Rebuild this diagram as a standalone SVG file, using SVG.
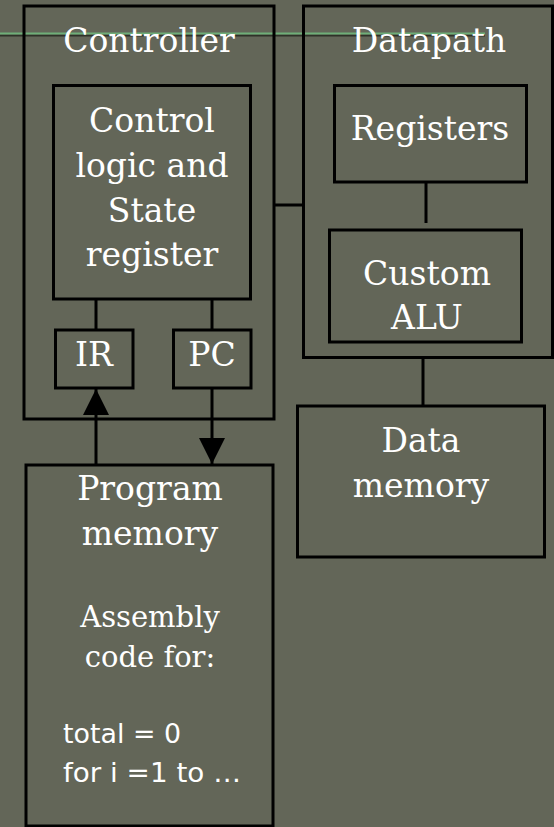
<svg xmlns="http://www.w3.org/2000/svg" width="554" height="827" viewBox="0 0 554 827">
<defs>
<style>
.box{fill:#636658;stroke:#000;stroke-width:3}
.ob{fill:none;stroke:#000;stroke-width:3}
.ln{stroke:#000;stroke-width:3;fill:none}
.t{font-family:"DejaVu Serif","Liberation Serif",serif;fill:#fff;text-anchor:middle;font-size:33px}
.s{font-family:"DejaVu Serif","Liberation Serif",serif;fill:#fff;text-anchor:middle;font-size:29px}
.c{font-family:"DejaVu Sans","Liberation Sans",sans-serif;fill:#fff;font-size:27px}
</style>
<marker id="ah" viewBox="0 0 26 26" refX="26" refY="13" markerWidth="26" markerHeight="26" markerUnits="userSpaceOnUse" orient="auto">
<path d="M0,0 L26,13 L0,26 Z" fill="#000"/>
</marker>
</defs>
<rect width="554" height="827" fill="#636658"/>
<g id="title-line">
<line x1="0" y1="35.5" x2="485" y2="35.5" stroke="#2f3128" stroke-width="2"/>
<line x1="0" y1="33.5" x2="485" y2="33.5" stroke="#6fae78" stroke-width="2"/>
</g>
<g id="controller">
<rect class="ob" x="24" y="6" width="250" height="413"/>
<text class="t" x="149" y="52">Controller</text>
</g>
<g id="datapath">
<rect class="ob" x="303.5" y="6" width="249" height="351.5"/>
<text class="t" x="429" y="52">Datapath</text>
</g>
<g id="control-logic">
<rect class="box" x="53.5" y="85.5" width="197" height="213.5"/>
<text class="t" x="152" y="132">Control</text>
<text class="t" x="152" y="177">logic and</text>
<text class="t" x="152" y="222">State</text>
<text class="t" x="152" y="266">register</text>
</g>
<g id="ir">
<rect class="box" x="55.5" y="330" width="77.5" height="58"/>
<text class="t" x="94" y="366">IR</text>
</g>
<g id="pc">
<rect class="box" x="173.5" y="330" width="77.5" height="58"/>
<text class="t" x="212" y="366">PC</text>
</g>
<g id="registers">
<rect class="box" x="334.5" y="85.5" width="192" height="96.5"/>
<text class="t" x="430" y="140">Registers</text>
</g>
<g id="custom-alu">
<rect class="box" x="329.5" y="230" width="192" height="112"/>
<text class="t" x="427" y="285">Custom</text>
<text class="t" x="427" y="329">ALU</text>
</g>
<g id="data-memory">
<rect class="box" x="297.5" y="406" width="247" height="151"/>
<text class="t" x="421" y="452">Data</text>
<text class="t" x="421" y="497">memory</text>
</g>
<g id="program-memory">
<rect class="box" x="26" y="465" width="247" height="361"/>
<text class="t" x="150" y="500">Program</text>
<text class="t" x="150" y="545">memory</text>
<text class="s" x="150" y="627">Assembly</text>
<text class="s" x="150" y="667">code for:</text>
<text class="c" x="63" y="743" textLength="118" lengthAdjust="spacingAndGlyphs">total = 0</text>
<text class="c" x="63" y="782" textLength="178" lengthAdjust="spacingAndGlyphs">for i =1 to …</text>
</g>
<g id="connectors">
<line class="ln" x1="96" y1="299" x2="96" y2="330"/>
<line class="ln" x1="212" y1="299" x2="212" y2="330"/>
<line class="ln" x1="96" y1="465" x2="96" y2="389" marker-end="url(#ah)"/>
<line class="ln" x1="212" y1="388" x2="212" y2="464" marker-end="url(#ah)"/>
<line class="ln" x1="274" y1="205" x2="303" y2="205"/>
<line class="ln" x1="426" y1="182" x2="426" y2="223"/>
<line class="ln" x1="423" y1="357" x2="423" y2="406"/>
</g>
</svg>
